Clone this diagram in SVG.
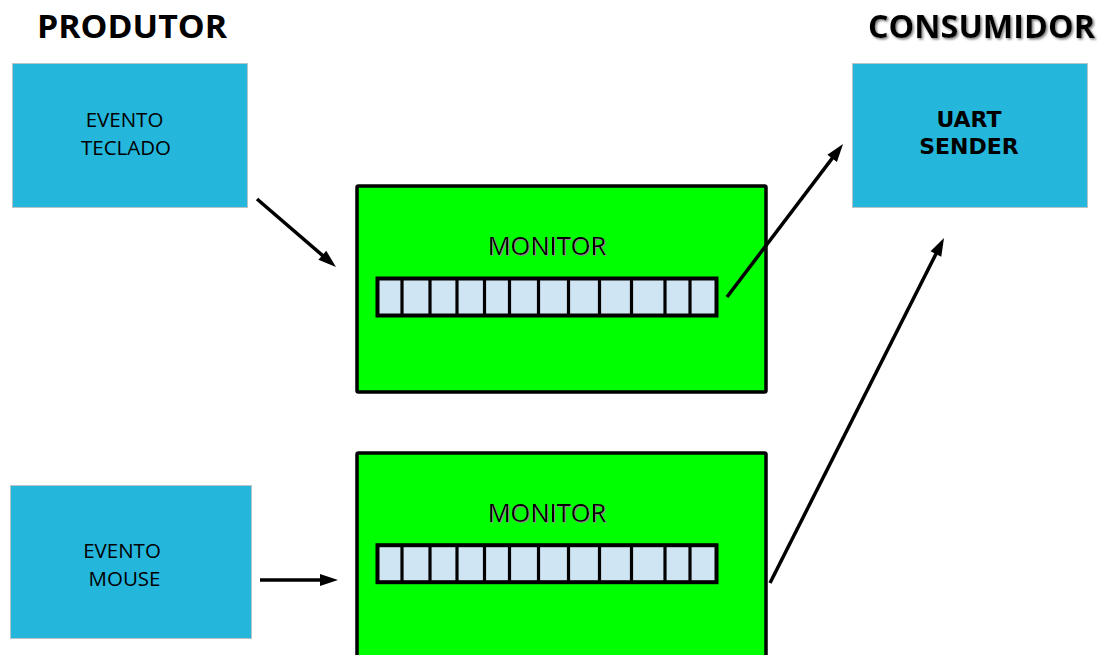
<svg xmlns="http://www.w3.org/2000/svg" width="1100" height="655" viewBox="0 0 1100 655">
  <style>
    .title { font-family: "Open Sans", "Liberation Sans", sans-serif; font-weight: 700; font-size: 32px; fill: #000; }
    .evt-box { fill: #25B6DC; stroke: #B8C4C8; stroke-width: 1; }
    .evt-label { font-family: "Open Sans", "Liberation Sans", sans-serif; font-size: 20.5px; fill: #000; text-anchor: middle; }
    .uart-label { font-family: "DejaVu Sans", "Liberation Sans", sans-serif; font-weight: 700; font-size: 22px; fill: #000; text-anchor: middle; }
    .monitor-box { fill: #00FF00; stroke: #000; stroke-width: 3.5; }
    .monitor-label { font-family: "Open Sans", "Liberation Sans", sans-serif; font-size: 25.5px; fill: #000; text-anchor: middle; }
    .buffer { fill: #CFE5F3; stroke: #000; stroke-width: 4; }
    .slot { stroke: #000; stroke-width: 3.2; }
    .arrow { stroke: #000; stroke-width: 3.5; fill: none; marker-end: url(#head); }
  </style>
  <defs>
    <marker id="head" markerUnits="userSpaceOnUse" markerWidth="20" markerHeight="14" refX="10" refY="7" orient="auto" overflow="visible">
      <path d="M0,1 L18,7 L0,13 Z" fill="#000"/>
    </marker>
    <filter id="soft-shadow" x="-10%" y="-20%" width="130%" height="150%">
      <feDropShadow dx="1" dy="1" stdDeviation="0.6" flood-color="#8a8a8a"/>
    </filter>
    <filter id="title-shadow" x="-10%" y="-20%" width="130%" height="160%">
      <feDropShadow dx="1.5" dy="1.5" stdDeviation="1.2" flood-color="#7a7a7a"/>
    </filter>
    <!-- twelve-slot queue -->
    <g id="queue">
      <rect class="buffer" x="377.5" y="278.5" width="339" height="37"/>
      <line class="slot" x1="402" y1="279" x2="402" y2="315"/>
      <line class="slot" x1="430" y1="279" x2="430" y2="315"/>
      <line class="slot" x1="457" y1="279" x2="457" y2="315"/>
      <line class="slot" x1="484.5" y1="279" x2="484.5" y2="315"/>
      <line class="slot" x1="509.5" y1="279" x2="509.5" y2="315"/>
      <line class="slot" x1="538.5" y1="279" x2="538.5" y2="315"/>
      <line class="slot" x1="568.5" y1="279" x2="568.5" y2="315"/>
      <line class="slot" x1="599.5" y1="279" x2="599.5" y2="315"/>
      <line class="slot" x1="631.5" y1="279" x2="631.5" y2="315"/>
      <line class="slot" x1="665" y1="279" x2="665" y2="315"/>
      <line class="slot" x1="690" y1="279" x2="690" y2="315"/>
    </g>
  </defs>

  <rect width="1100" height="655" fill="#fff"/>

  <text class="title" x="37" y="37.5" textLength="190" lengthAdjust="spacingAndGlyphs">PRODUTOR</text>
  <text class="title" x="868" y="37.5" textLength="227" lengthAdjust="spacingAndGlyphs" filter="url(#title-shadow)">CONSUMIDOR</text>

  <g id="evento-teclado">
    <rect class="evt-box" x="12.5" y="63.5" width="235" height="144"/>
    <text class="evt-label" x="124.5" y="127">EVENTO</text>
    <text class="evt-label" x="126" y="155">TECLADO</text>
  </g>

  <g id="evento-mouse">
    <rect class="evt-box" x="10.5" y="485.5" width="241" height="153"/>
    <text class="evt-label" x="122" y="557.5">EVENTO</text>
    <text class="evt-label" x="124.5" y="585.5">MOUSE</text>
  </g>

  <g id="uart-sender">
    <rect class="evt-box" x="852.5" y="63.5" width="235" height="144"/>
    <text class="uart-label" x="969" y="126.5">UART</text>
    <text class="uart-label" x="969" y="154">SENDER</text>
  </g>

  <g id="monitor-teclado">
    <rect class="monitor-box" x="357" y="186" width="409" height="206" rx="1.5"/>
    <text class="monitor-label" x="547" y="255" filter="url(#soft-shadow)">MONITOR</text>
    <use href="#queue"/>
  </g>

  <g id="monitor-mouse">
    <rect class="monitor-box" x="357" y="453" width="409" height="210" rx="1.5"/>
    <text class="monitor-label" x="547" y="522" filter="url(#soft-shadow)">MONITOR</text>
    <use href="#queue" transform="translate(0,266.7)"/>
  </g>

  <g id="connectors">
    <line class="arrow" x1="257" y1="199" x2="329.9" y2="261.8"/>
    <line class="arrow" x1="727" y1="297" x2="838.2" y2="150.4"/>
    <line class="arrow" x1="770" y1="583" x2="940.4" y2="245.1"/>
    <line class="arrow" x1="260" y1="580" x2="330" y2="580"/>
  </g>
</svg>
